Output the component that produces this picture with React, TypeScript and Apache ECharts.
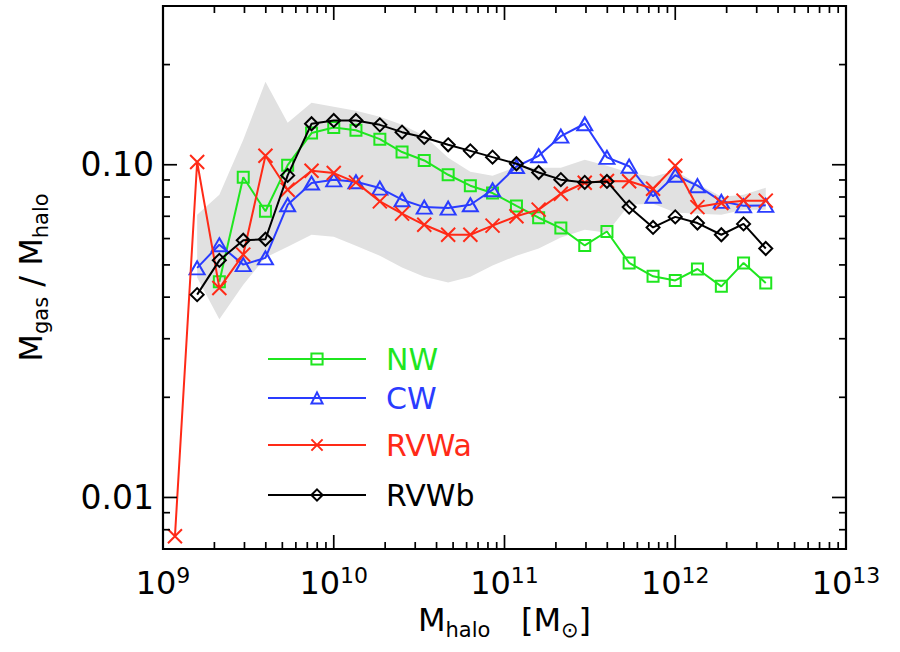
import React, { useEffect, useRef } from 'react';
import * as echarts from 'echarts';

// log10 of halo mass at each bin
const LOG_MASS = [9.07, 9.2, 9.33, 9.47, 9.6, 9.73, 9.87, 10.0, 10.13, 10.27, 10.4, 10.53, 10.67, 10.8, 10.93, 11.07, 11.2, 11.33, 11.47, 11.6, 11.73, 11.87, 12.0, 12.13, 12.27, 12.4, 12.53];

const NW = [null, null, 0.0445, 0.0917, 0.0725, 0.0997, 0.1245, 0.1294, 0.127, 0.1194, 0.1092, 0.103, 0.0933, 0.0865, 0.0822, 0.0752, 0.0693, 0.0645, 0.0572, 0.063, 0.0507, 0.0462, 0.0449, 0.0486, 0.0431, 0.0507, 0.0441];
const CW = [null, 0.049, 0.0575, 0.0501, 0.0525, 0.0758, 0.0881, 0.0901, 0.0889, 0.0851, 0.0785, 0.0746, 0.0741, 0.0758, 0.0841, 0.0988, 0.1064, 0.1219, 0.1328, 0.1052, 0.099, 0.0804, 0.093, 0.0865, 0.0776, 0.0753, 0.0755];
const RVWA = [0.00765, 0.1019, 0.0426, 0.0537, 0.1064, 0.0841, 0.0959, 0.0944, 0.0885, 0.0776, 0.0713, 0.066, 0.0616, 0.0616, 0.0656, 0.07, 0.0733, 0.0818, 0.0883, 0.0894, 0.0892, 0.0847, 0.0993, 0.0746, 0.0767, 0.078, 0.078];
const RVWB = [null, 0.0407, 0.0516, 0.0593, 0.0597, 0.0929, 0.1328, 0.1359, 0.1359, 0.1318, 0.1253, 0.1208, 0.1148, 0.1101, 0.1054, 0.1007, 0.0948, 0.0902, 0.0885, 0.0891, 0.0746, 0.0648, 0.0697, 0.0668, 0.0616, 0.0664, 0.056];

// shaded scatter band (upper / lower bounds)
const BAND_UPPER = [null, 0.0708, 0.0813, 0.1189, 0.1775, 0.1337, 0.1535, 0.1493, 0.1452, 0.1393, 0.1318, 0.1222, 0.1049, 0.0953, 0.0927, 0.0986, 0.0979, 0.0979, 0.1035, 0.0993, 0.0946, 0.092, 0.0959, 0.0877, 0.0801, 0.0813, 0.0853];
const BAND_LOWER = [null, 0.0458, 0.0343, 0.0436, 0.0526, 0.0567, 0.0616, 0.0608, 0.0571, 0.0533, 0.0491, 0.0461, 0.0443, 0.0461, 0.0498, 0.0533, 0.056, 0.0604, 0.0638, 0.0625, 0.0758, 0.0764, 0.0718, 0.0713, 0.0708, 0.0733, 0.0733];

const SERIES_NAMES = ['NW', 'CW', 'RVWa', 'RVWb'];

const X_MAJOR = [1e9, 1e10, 1e11, 1e12, 1e13];
const X_MINOR_MULT = [2, 3, 4, 5, 6, 7, 8, 9];
const Y_MAJOR = [0.01, 0.1];
const Y_LABELS = ['0.01', '0.10'];
const Y_MINOR = [0.008, 0.009, 0.02, 0.03, 0.04, 0.05, 0.06, 0.07, 0.08, 0.09, 0.2];

const X_MIN = 1e9;
const X_MAX = 1e13;
const Y_MIN = 0.007;
const Y_MAX = 0.3;

const FONT = 'DejaVu Sans';
const GREEN = '#1fe61f';
const BLUE = '#2a3cff';
const RED = '#ff2a17';
const BLACK = '#000000';

const X_MINOR: number[] = [];
for (let k = 0; k < X_MAJOR.length - 1; k++) {
  for (const m of X_MINOR_MULT) X_MINOR.push(X_MAJOR[k] * m);
}

function toPoints(vals: (number | null)[]) {
  const out: number[][] = [];
  LOG_MASS.forEach((lm, i) => {
    const v = vals[i];
    if (v != null) out.push([Math.pow(10, lm), v]);
  });
  return out;
}

function tickSeries(dir: 'x' | 'y', values: number[], len: number) {
  return {
    type: 'custom',
    silent: true,
    clip: false,
    z: 6,
    data: values.map((v) => (dir === 'x' ? [v, 0.1] : [1e10, v])),
    renderItem: (params: any, api: any) => {
      const cs = params.coordSys;
      const p = api.coord([api.value(0), api.value(1)]);
      const st = { stroke: '#000', lineWidth: 1.7 };
      if (dir === 'x') {
        return {
          type: 'group',
          children: [
            { type: 'line', shape: { x1: p[0], y1: cs.y + cs.height, x2: p[0], y2: cs.y + cs.height - len }, style: st },
            { type: 'line', shape: { x1: p[0], y1: cs.y, x2: p[0], y2: cs.y + len }, style: st },
          ],
        };
      }
      return {
        type: 'group',
        children: [
          { type: 'line', shape: { x1: cs.x, y1: p[1], x2: cs.x + len, y2: p[1] }, style: st },
          { type: 'line', shape: { x1: cs.x + cs.width, y1: p[1], x2: cs.x + cs.width - len, y2: p[1] }, style: st },
        ],
      };
    },
  };
}

function lineSeries(name: string, vals: (number | null)[], color: string, symbol: string, size: number | number[], z: number) {
  return {
    type: 'line',
    name,
    data: toPoints(vals),
    symbol,
    symbolSize: size,
    showSymbol: true,
    silent: true,
    z,
    lineStyle: { color, width: 2 },
    itemStyle: { color: 'none', borderColor: color, borderWidth: 2 },
  };
}

const RICH_TITLE = {
  m: { fontSize: 32, fontFamily: FONT, color: '#000', lineHeight: 36, verticalAlign: 'top' },
  s: { fontSize: 21, fontFamily: FONT, color: '#000', lineHeight: 20, verticalAlign: 'bottom' },
};

export default function App() {
  const ref = useRef<HTMLDivElement>(null);
  useEffect(() => {
    if (!ref.current) return;
    const chart = echarts.init(ref.current, undefined, { renderer: 'svg' });
    const legendRowsY = [362, 401, 448, 498];
    const colors = [GREEN, BLUE, RED, BLACK];
    const option: any = {
      animation: false,
      backgroundColor: '#fff',
      grid: { left: 163, top: 6, right: 54, bottom: 103, show: true, borderColor: '#000', borderWidth: 2.2, backgroundColor: 'transparent' },
      legend: SERIES_NAMES.map((n, i) => ({
        data: [n],
        left: 267,
        top: legendRowsY[i] - 18,
        padding: 0,
        itemWidth: 98,
        itemHeight: 14,
        selectedMode: false,
        textStyle: { color: colors[i], fontSize: 30, fontFamily: FONT, padding: [0, 0, 0, 15] },
      })),
      xAxis: {
        type: 'log',
        logBase: 10,
        min: X_MIN,
        max: X_MAX,
        axisLine: { show: false },
        axisTick: { show: false },
        splitLine: { show: false },
        axisLabel: {
          margin: 15,
          formatter: (v: number) => `{b|10}{s|${Math.round(Math.log10(v))}}`,
          rich: {
            b: { fontSize: 32, fontFamily: FONT, color: '#000', lineHeight: 38 },
            s: { fontSize: 22, fontFamily: FONT, color: '#000', lineHeight: 17, verticalAlign: 'top' },
          },
        },
        name: '{m|M}{s|halo}{m|   [M}{s|⊙}{m|]}',
        nameLocation: 'middle',
        nameGap: 55,
        nameTextStyle: { rich: RICH_TITLE },
      },
      yAxis: {
        type: 'log',
        logBase: 10,
        min: Y_MIN,
        max: Y_MAX,
        axisLine: { show: false },
        axisTick: { show: false },
        splitLine: { show: false },
        axisLabel: {
          margin: 9,
          fontSize: 33,
          fontFamily: FONT,
          color: '#000',
          showMinLabel: false,
          showMaxLabel: false,
          formatter: (v: number) => {
            const idx = Y_MAJOR.findIndex((t) => Math.abs(Math.log10(v) - Math.log10(t)) < 1e-6);
            return idx >= 0 ? Y_LABELS[idx] : '';
          },
        },
        name: '{m|M}{s|gas}{m| / M}{s|halo}',
        nameLocation: 'middle',
        nameRotate: 90,
        nameGap: 112,
        nameTextStyle: { rich: RICH_TITLE },
      },
      series: [
        {
          type: 'custom',
          silent: true,
          z: 1,
          data: [[1e10, 0.1]],
          renderItem: (params: any, api: any) => {
            const up: number[][] = [];
            const lo: number[][] = [];
            LOG_MASS.forEach((lm, i) => {
              const u = BAND_UPPER[i];
              const l = BAND_LOWER[i];
              if (u != null && l != null) {
                up.push(api.coord([Math.pow(10, lm), u]));
                lo.push(api.coord([Math.pow(10, lm), l]));
              }
            });
            return { type: 'polygon', shape: { points: up.concat(lo.reverse()) }, style: { fill: '#e1e1e1' } };
          },
        },
        tickSeries('x', X_MAJOR, 14),
        tickSeries('x', X_MINOR, 7),
        tickSeries('y', Y_MAJOR, 14),
        tickSeries('y', Y_MINOR, 7),
        lineSeries('NW', NW, GREEN, 'rect', 11, 3),
        lineSeries('CW', CW, BLUE, 'triangle', [15, 13], 4),
        lineSeries('RVWa', RVWA, RED, 'path://M0,0L10,10M10,0L0,10', 14, 5),
        lineSeries('RVWb', RVWB, BLACK, 'diamond', [13, 13], 6),
      ],
    };
    chart.setOption(option);
    return () => chart.dispose();
  }, []);
  return <div ref={ref} style={{ position: 'fixed', left: 0, top: 0, width: 900, height: 652 }} />;
}
